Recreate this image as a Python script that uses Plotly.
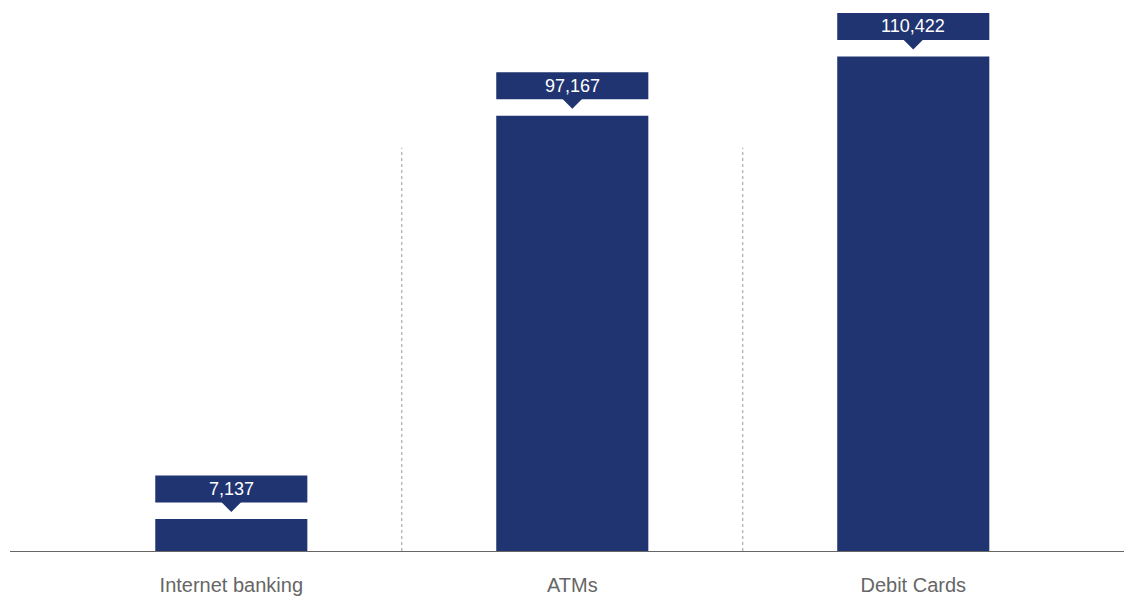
import plotly.graph_objects as go

categories = ["Internet banking", "ATMs", "Debit Cards"]
values = [7137, 97167, 110422]
value_labels = ["7,137", "97,167", "110,422"]

NAVY = "#1f3471"
fig = go.Figure()
fig.add_trace(go.Bar(x=categories, y=values, width=0.446, marker=dict(color=NAVY, line=dict(width=0)),
                     hoverinfo="skip"))

shapes = []
annotations = []
for i, (v, lab) in enumerate(zip(values, value_labels)):
    shapes.append(dict(type="rect", xref="x", yref="y", ysizemode="pixel", yanchor=v,
                       x0=i - 0.223, x1=i + 0.223, y0=16.5, y1=43.5,
                       fillcolor=NAVY, line=dict(width=0), layer="above"))
    shapes.append(dict(type="path", xref="x", yref="y", xsizemode="pixel", ysizemode="pixel",
                       xanchor=i, yanchor=v, path="M-10,17 L10,17 L0,7 Z",
                       fillcolor=NAVY, line=dict(width=0), layer="above"))
    annotations.append(dict(x=i, y=v, xref="x", yref="y", text=lab, showarrow=False,
                            yshift=30, font=dict(color="white", size=18, family="Liberation Sans, Arial")))

for sep in [0.5, 1.5]:
    shapes.append(dict(type="line", xref="x", yref="y", x0=sep, x1=sep, y0=0, y1=90000,
                       line=dict(color="#999999", width=1, dash="dot")))

fig.update_layout(
    width=1124, height=597,
    margin=dict(l=10, r=0, t=0, b=45.5),
    plot_bgcolor="white", paper_bgcolor="white",
    showlegend=False,
    shapes=shapes, annotations=annotations,
    xaxis=dict(range=[-0.649, 2.618], showgrid=False, zeroline=False, showline=False,
               ticks="", ticklabelstandoff=20,
               tickfont=dict(size=20, color="#666666", family="Liberation Sans, Arial")),
    yaxis=dict(range=[0, 123020], showgrid=False, zeroline=True, zerolinecolor="#666666",
               zerolinewidth=1, showticklabels=False, showline=False),
)
fig.write_html("out.html", config={"displayModeBar": False, "staticPlot": True},
               post_script="document.body.style.margin='0';document.body.style.overflow='hidden';")
